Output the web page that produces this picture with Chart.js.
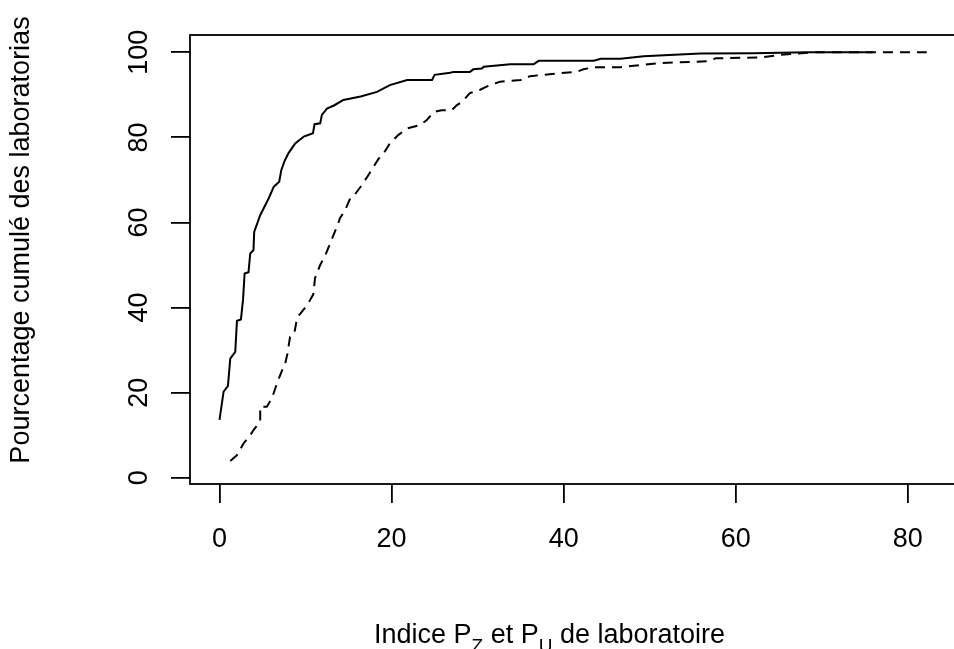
<!DOCTYPE html>
<html>
<head>
<meta charset="utf-8">
<script src="https://cdn.jsdelivr.net/npm/chart.js@4.4.1/dist/chart.umd.min.js"></script>
<style>
  html, body { margin: 0; padding: 0; background: #fff; overflow: hidden; }
  #wrap { width: 960px; height: 649px; }
</style>
</head>
<body>
<div id="wrap"><canvas id="cdfChart" width="960" height="649"></canvas></div>
<script>
const xTicks = [0, 20, 40, 60, 80];
const yTicks = [0, 20, 40, 60, 80, 100];

// indice Pz (trait plein)
const pzIndex = [0, 0.47, 0.98, 1.25, 1.83, 2.03, 2.49, 2.73, 2.92, 3.37, 3.57, 3.95, 4.03, 4.73, 5.72,
    6.3, 6.94, 7.18, 7.53, 8.02, 8.8, 9.8, 10.86, 11.05, 11.7, 11.9, 12.5, 13.3, 14.4, 16.4,
    18.3, 19.8, 21.8, 24.7, 25.0, 26.8, 27.2, 29.1, 29.5, 30.5, 30.7, 33.8, 36.5, 37.1, 43.5,
    44.3, 46.6, 49.3, 55.9, 62.0, 68.3, 76.0];
const pzPercent = [13.6, 20.2, 21.6, 28.0, 29.6, 36.9, 37.2, 41.8, 48.0, 48.3, 52.7, 53.5, 57.8, 61.7, 65.7,
    68.4, 69.6, 72.3, 74.3, 76.3, 78.6, 80.2, 81.0, 83.1, 83.3, 85.3, 86.8, 87.5, 88.8, 89.6,
    90.7, 92.3, 93.5, 93.5, 94.7, 95.2, 95.4, 95.4, 96.0, 96.2, 96.6, 97.2, 97.2, 98.0, 98.0,
    98.5, 98.5, 99.1, 99.7, 99.8, 100, 100];

// indice Pu (tirets)
const puIndex = [1.25, 2.03, 2.8, 3.57, 3.95, 4.73, 4.73, 5.5, 6.1, 6.68, 7.37, 7.6, 7.9, 8.2, 8.7,
    9.0, 9.4, 10.2, 10.9, 11.1, 11.7, 12.3, 13.1, 13.65, 14.0, 14.6, 15.2, 15.7, 16.4, 17.2,
    17.9, 18.5, 19.1, 19.8, 20.8, 21.8, 23.3, 24.1, 24.9, 25.8, 27.0, 27.6, 28.2, 29.1, 30.3,
    31.1, 32.6, 35.0, 36.1, 39.6, 41.5, 42.3, 43.5, 46.6, 49.0, 51.3, 56.7, 57.7, 62.9, 65.2,
    67.1, 69.0, 82.2];
const puPercent = [3.9, 5.3, 8.1, 10.0, 11.2, 13.2, 16.7, 16.7, 18.7, 22.2, 25.7, 26.5, 29.2, 33.1, 33.9,
    37.5, 38.6, 40.6, 43.1, 46.9, 50.0, 52.3, 56.3, 59.0, 61.0, 62.9, 65.7, 66.5, 68.4, 70.8,
    73.1, 75.0, 76.3, 78.6, 80.6, 82.1, 82.9, 84.1, 86.0, 86.4, 86.4, 87.6, 88.4, 90.4, 91.2,
    92.0, 93.1, 93.5, 94.4, 95.1, 95.4, 96.0, 96.5, 96.5, 97.0, 97.5, 97.9, 98.6, 98.8, 99.4,
    99.7, 100, 100];

const FONT = '"Liberation Sans", Arial, Helvetica, sans-serif';
const LW = 1.8;

function toPoints(xs, ys) {
    return xs.map((x, i) => ({ x: x, y: ys[i] }));
}

// cadre autour de la zone du graphe
const boxPlugin = {
    id: 'box',
    afterDraw(chart) {
        const { ctx, chartArea: a } = chart;
        ctx.save();
        ctx.strokeStyle = '#000';
        ctx.lineWidth = LW;
        ctx.strokeRect(a.left, a.top, a.right - a.left, a.bottom - a.top);
        ctx.restore();
    }
};

// titres des axes (x avec indices P_Z, P_U)
const axisTitlePlugin = {
    id: 'axisTitles',
    afterDraw(chart) {
        const ctx = chart.ctx;
        const parts = [['Indice P', false], ['Z', true], [' et P', false], ['U', true], [' de laboratoire', false]];
        const big = '27px ' + FONT;
        const small = '19px ' + FONT;
        ctx.save();
        ctx.fillStyle = '#000';
        ctx.textBaseline = 'alphabetic';
        let x = 374;
        const y = 643;
        parts.forEach(p => {
            ctx.font = p[1] ? small : big;
            ctx.fillText(p[0], x, p[1] ? y + 9 : y);
            x += ctx.measureText(p[0]).width;
        });

        // titre vertical
        ctx.font = big;
        ctx.textAlign = 'center';
        ctx.textBaseline = 'middle';
        ctx.translate(22, 240);
        ctx.rotate(-Math.PI / 2);
        ctx.fillText('Pourcentage cumulé des laboratorias', 0, 0);
        ctx.restore();
    }
};

const gridOpts = {
    drawOnChartArea: false,
    drawTicks: true,
    tickLength: 19,
    tickWidth: LW,
    lineWidth: LW,
    tickColor: '#000',
    color: '#000'
};

const ctx = document.getElementById('cdfChart').getContext('2d');
new Chart(ctx, {
    type: 'line',
    data: {
        datasets: [{
            label: 'Pz',
            data: toPoints(pzIndex, pzPercent),
            borderColor: '#000',
            borderWidth: 2,
            pointRadius: 0,
            tension: 0,
            fill: false
        }, {
            label: 'Pu',
            data: toPoints(puIndex, puPercent),
            borderColor: '#000',
            borderWidth: 2,
            borderDash: [10, 7],
            pointRadius: 0,
            tension: 0,
            fill: false
        }]
    },
    options: {
        responsive: false,
        devicePixelRatio: 1,
        animation: false,
        layout: { padding: { top: 35, right: 4, left: 0, bottom: 0 } },
        plugins: {
            legend: { display: false },
            tooltip: { enabled: false }
        },
        scales: {
            x: {
                type: 'linear',
                min: -3.43,
                max: 85.6,
                afterBuildTicks: s => { s.ticks = xTicks.map(v => ({ value: v })); },
                afterFit: s => { s.height = 165; },
                grid: gridOpts,
                border: { display: false },
                ticks: {
                    color: '#000',
                    font: { family: FONT, size: 27 },
                    padding: 20,
                    maxRotation: 0,
                    autoSkip: false
                },
                title: { display: false }
            },
            y: {
                type: 'linear',
                min: -1.48,
                max: 104.07,
                afterBuildTicks: s => { s.ticks = yTicks.map(v => ({ value: v })); },
                afterFit: s => { s.width = 190; },
                grid: gridOpts,
                border: { display: false },
                ticks: {
                    color: '#000',
                    font: { family: FONT, size: 27 },
                    minRotation: 90,
                    maxRotation: 90,
                    crossAlign: 'center',
                    padding: 9,
                    autoSkip: false
                },
                title: { display: false }
            }
        }
    },
    plugins: [boxPlugin, axisTitlePlugin]
});
</script>
</body>
</html>
